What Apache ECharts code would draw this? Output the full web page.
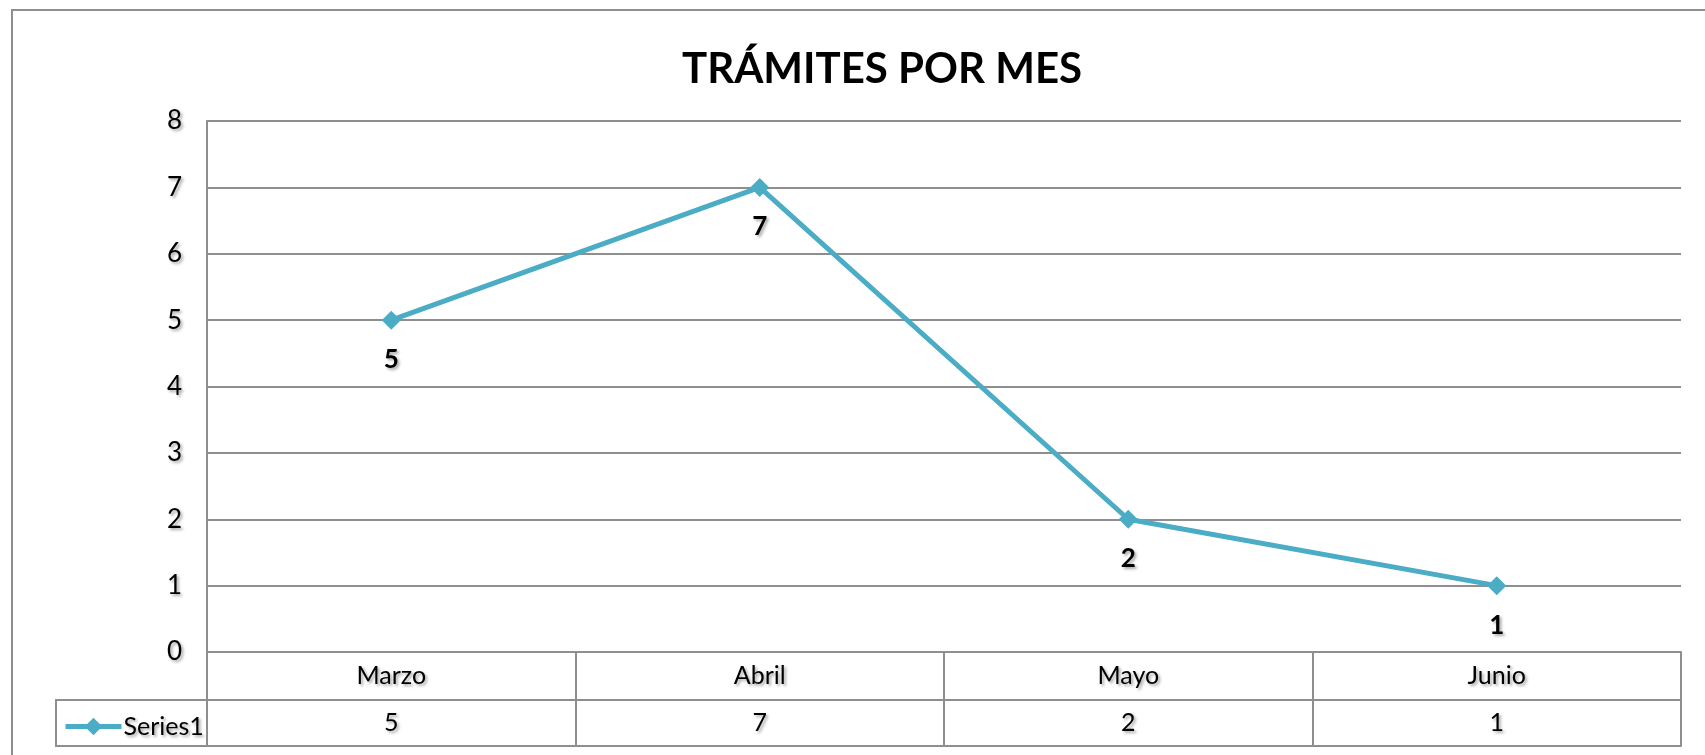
<!DOCTYPE html>
<html>
<head>
<meta charset="utf-8">
<script src="https://cdn.jsdelivr.net/npm/echarts@6/dist/echarts.min.js"></script>
<style>
html,body{margin:0;padding:0;background:#fff;}
#chart{width:1705px;height:755px;}
</style>
</head>
<body>
<div id="chart"></div>
<script>
const chartTitle = 'TRÁMITES POR MES';
const categories = ['Marzo', 'Abril', 'Mayo', 'Junio'];
const seriesName = 'Series1';
const values = [5, 7, 2, 1];
const yTicks = { min: 0, max: 8, interval: 1 };

const FONT = 'Lato, "Liberation Sans", sans-serif';
const GRID = '#8e8e8e';
const LINE = '#4BACC6';
const shadow = {
  textShadowColor: 'rgba(0,0,0,0.35)',
  textShadowBlur: 3,
  textShadowOffsetX: 2,
  textShadowOffsetY: 2
};

const chart = echarts.init(document.getElementById('chart'), null, { renderer: 'canvas' });
chart.setOption({
  backgroundColor: '#fff',
  animation: false,
  title: {
    text: chartTitle,
    left: 682,
    top: 48,
    padding: 0,
    textStyle: { fontFamily: FONT, fontWeight: 'bold', fontSize: 42, color: '#000' }
  },
  legend: {
    data: [seriesName],
    left: 58,
    top: 709,
    itemWidth: 56,
    itemHeight: 22,
    itemGap: 4,
    lineStyle: { color: LINE, width: 5 },
    itemStyle: { color: LINE },
    textStyle: Object.assign({ fontFamily: FONT, fontSize: 25, color: '#000', padding: [0, 0, 0, -3] }, shadow)
  },
  grid: { left: 207, right: 24, top: 121, bottom: 103, containLabel: false },
  xAxis: [
    {
      type: 'category',
      data: categories,
      boundaryGap: true,
      position: 'bottom',
      axisLine: { show: true, lineStyle: { color: GRID, width: 2 } },
      axisTick: { show: true, length: 94, lineStyle: { color: GRID, width: 2 } },
      axisLabel: Object.assign({ fontFamily: FONT, fontSize: 25, color: '#000', margin: 11 }, shadow),
      splitLine: { show: false }
    },
    {
      type: 'category',
      data: categories,
      boundaryGap: true,
      position: 'bottom',
      offset: 48,
      axisLine: { show: true, lineStyle: { color: GRID, width: 2 } },
      axisTick: { show: false },
      axisLabel: Object.assign({
        fontFamily: FONT, fontSize: 25, color: '#000', margin: 10,
        formatter: function (v, i) { return String(values[i]); }
      }, shadow),
      splitLine: { show: false }
    },
    {
      type: 'category',
      data: categories,
      boundaryGap: true,
      position: 'bottom',
      offset: 94,
      axisLine: { show: true, lineStyle: { color: GRID, width: 2 } },
      axisTick: { show: false },
      axisLabel: { show: false },
      splitLine: { show: false }
    }
  ],
  yAxis: {
    type: 'value',
    min: yTicks.min,
    max: yTicks.max,
    interval: yTicks.interval,
    axisLine: { show: true, lineStyle: { color: GRID, width: 2 } },
    axisTick: { show: false },
    axisLabel: Object.assign({ fontFamily: FONT, fontSize: 26, color: '#000', margin: 25 }, shadow),
    splitLine: { show: true, lineStyle: { color: GRID, width: 2 } }
  },
  graphic: [
    {
      type: 'rect',
      shape: { x: 12, y: 10, width: 1800, height: 900 },
      style: { fill: 'none', stroke: GRID, lineWidth: 2 },
      silent: true
    },
    {
      type: 'rect',
      shape: { x: 56, y: 700, width: 151, height: 46 },
      style: { fill: 'none', stroke: GRID, lineWidth: 2 },
      silent: true
    }
  ],
  series: [
    {
      name: seriesName,
      type: 'line',
      xAxisIndex: 0,
      data: values,
      symbol: 'diamond',
      symbolSize: 19,
      lineStyle: { color: LINE, width: 5 },
      itemStyle: { color: LINE },
      label: Object.assign({
        show: true,
        position: 'bottom',
        distance: 17,
        fontFamily: FONT,
        fontWeight: 'bold',
        fontSize: 26,
        color: '#000'
      }, shadow)
    }
  ]
});
</script>
</body>
</html>
